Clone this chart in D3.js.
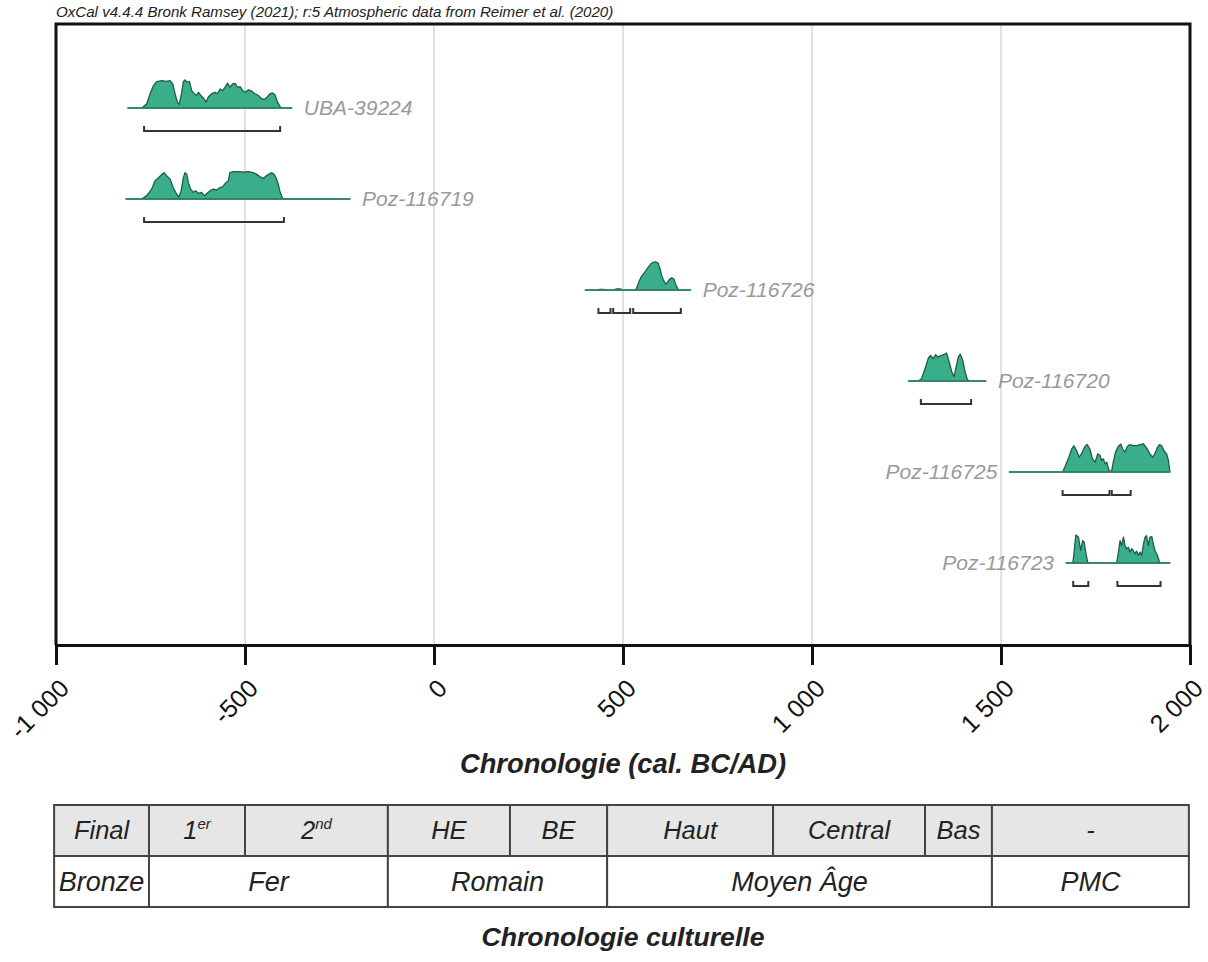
<!DOCTYPE html>
<html>
<head>
<meta charset="utf-8">
<script src="https://cdn.jsdelivr.net/npm/d3@7/dist/d3.min.js"></script>
<style>
  html, body { margin: 0; padding: 0; background: #fff; }
  svg { display: block; font-family: "Liberation Sans", Arial, sans-serif; }
</style>
</head>
<body>
<svg id="chart" width="1208" height="962"></svg>
<script>
// ---------------- DATA ----------------
const noteText = "OxCal v4.4.4 Bronk Ramsey (2021); r:5 Atmospheric data from Reimer et al. (2020)";
const axisTitle = "Chronologie (cal. BC/AD)";
const tableTitle = "Chronologie culturelle";

const tickValues = [-1000, -500, 0, 500, 1000, 1500, 2000];
const tickLabels = ["-1 000", "-500", "0", "500", "1 000", "1 500", "2 000"];
const gridValues = [-500, 0, 500, 1000, 1500];

const sampleNames = ["UBA-39224", "Poz-116719", "Poz-116726", "Poz-116720", "Poz-116725", "Poz-116723"];
const labelSides = ["right", "right", "right", "right", "left", "left"];

const uba39224Years = [-810,-773,-760,-751,-742,-734,-720,-707,-698,-691,-685,-679,-674,-668,-663,-659,-653,-647,-641,-635,-628,-623,-617,-610,-603,-597,-588,-579,-573,-566,-559,-553,-546,-540,-533,-526,-520,-513,-506,-499,-491,-482,-474,-465,-456,-449,-443,-434,-427,-421,-414,-407,-403,-376];
const uba39224Prob  = [0,0,15,51,80,94,98,95,98,86,51,21,13,51,95,100,92,95,62,51,45,56,45,36,21,39,51,56,51,68,62,74,89,74,86,88,74,76,62,56,65,60,51,45,33,31,36,51,54,47,21,4,0,0];

const poz116719Years = [-815,-773,-760,-747,-738,-729,-720,-714,-707,-698,-690,-681,-675,-669,-663,-659,-654,-650,-644,-637,-630,-623,-615,-608,-601,-593,-584,-575,-566,-559,-550,-544,-540,-531,-518,-504,-491,-478,-469,-460,-451,-444,-438,-429,-423,-418,-412,-407,-401,-399,-222];
const poz116719Prob  = [0,0,12,35,65,76,88,94,82,71,41,18,6,29,76,94,88,59,35,24,29,20,24,12,20,29,35,32,41,44,59,65,94,98,98,96,98,94,88,79,74,82,88,94,88,76,53,24,4,0,0];

const poz116726Years = [400,430,439,448,457,474,483,492,501,532,536,542,549,558,567,574,580,587,593,598,602,607,613,617,623,629,635,640,646,651,679];
const poz116726Prob  = [0,0,2,2,0,0,4,4,0,0,6,29,49,65,82,94,99,100,96,76,53,35,21,26,38,44,38,18,2,0,0];

const poz116720Years = [1255,1281,1290,1299,1308,1314,1321,1327,1334,1340,1349,1356,1363,1370,1376,1381,1387,1392,1399,1405,1411,1416,1460];
const poz116720Prob  = [0,0,8,44,82,91,79,94,85,91,94,100,67,32,16,49,85,96,73,32,5,0,0];

const poz116725Years = [1522,1663,1669,1678,1687,1693,1700,1707,1713,1722,1728,1735,1742,1749,1756,1762,1766,1771,1775,1780,1784,1788,1793,1797,1803,1810,1817,1822,1828,1834,1841,1850,1859,1868,1877,1885,1894,1901,1907,1914,1919,1925,1931,1938,1943,1945,1947];
const poz116725Prob  = [0,0,18,47,82,94,76,53,65,91,98,82,47,35,65,59,41,47,29,35,12,0,6,35,71,91,100,82,71,91,98,94,94,98,100,86,65,53,65,88,98,94,76,65,41,18,0];

const poz116723Years = [1672,1690,1693,1698,1705,1711,1716,1720,1725,1729,1732,1806,1810,1815,1819,1824,1828,1832,1837,1841,1846,1850,1854,1859,1863,1868,1872,1877,1881,1885,1890,1894,1899,1903,1907,1914,1918,1921,1947];
const poz116723Prob  = [0,0,33,100,92,45,80,74,33,4,0,0,33,80,62,92,62,51,56,39,51,45,33,42,27,39,27,68,92,98,62,92,94,68,45,27,9,0,0];

// 95.4% ranges (brackets) per sample
const uba39224Ranges  = [[-767, -407]];
const poz116719Ranges = [[-767, -397]];
const poz116726Ranges = [[435, 467], [474, 519], [527, 653]];
const poz116720Ranges = [[1288, 1421]];
const poz116725Ranges = [[1663, 1787], [1793, 1843]];
const poz116723Ranges = [[1691, 1731], [1808, 1922]];

// Cultural chronology table
const periodBounds = [-1005, -754, -500, -122, 201, 458, 897, 1299, 1476, 1997];
const subPeriods = [
  ["Final", ""], ["1", "er"], ["2", "nd"], ["HE", ""], ["BE", ""],
  ["Haut", ""], ["Central", ""], ["Bas", ""], ["-", ""]
];
const mainPeriods = ["Bronze", "Fer", "Romain", "Moyen Âge", "PMC"];
const mainPeriodSpans = [[0, 1], [1, 3], [3, 5], [5, 8], [8, 9]];

// ---------------- BUILD ----------------
const samples = [
  { years: uba39224Years, prob: uba39224Prob, ranges: uba39224Ranges },
  { years: poz116719Years, prob: poz116719Prob, ranges: poz116719Ranges },
  { years: poz116726Years, prob: poz116726Prob, ranges: poz116726Ranges },
  { years: poz116720Years, prob: poz116720Prob, ranges: poz116720Ranges },
  { years: poz116725Years, prob: poz116725Prob, ranges: poz116725Ranges },
  { years: poz116723Years, prob: poz116723Prob, ranges: poz116723Ranges }
].map((s, i) => ({ ...s, name: sampleNames[i], side: labelSides[i] }));

const svg = d3.select("#chart");

const plot = { left: 56, right: 1190, top: 24, bottom: 645 };

const x = d3.scaleLinear().domain([-1000, 2000]).range([plot.left, plot.right]);
const rowY = d3.scalePoint().domain(sampleNames).range([108, 563]);
const h = d3.scaleLinear().domain([0, 100]).range([0, 28]);

// note at top
svg.append("text")
  .attr("x", plot.left).attr("y", 17)
  .attr("font-size", 15.1).attr("font-style", "italic").attr("fill", "#222")
  .text(noteText);

// gridlines
svg.append("g").selectAll("line").data(gridValues).join("line")
  .attr("x1", d => x(d)).attr("x2", d => x(d))
  .attr("y1", plot.top).attr("y2", plot.bottom)
  .attr("stroke", "#c4c4c4").attr("stroke-width", 1);

// distributions
const rows = svg.append("g").selectAll("g").data(samples).join("g")
  .attr("transform", d => `translate(0,${rowY(d.name)})`);

const area = d3.area()
  .x(d => x(d[0]))
  .y0(0)
  .y1(d => -h(d[1]));

rows.append("path")
  .attr("d", d => area(d.years.map((yr, k) => [yr, d.prob[k]])))
  .attr("fill", "#3aad8a")
  .attr("stroke", "#1c5f45")
  .attr("stroke-width", 1.3)
  .attr("stroke-linejoin", "round");

rows.append("line")
  .attr("x1", d => x(d.years[0])).attr("x2", d => x(d.years[d.years.length - 1]))
  .attr("y1", 0).attr("y2", 0)
  .attr("stroke", "#2e8a66").attr("stroke-width", 1.6);

rows.append("text")
  .attr("x", d => d.side === "right" ? x(d.years[d.years.length - 1]) + 12 : x(d.years[0]) - 12)
  .attr("y", 7)
  .attr("text-anchor", d => d.side === "right" ? "start" : "end")
  .attr("font-size", 21).attr("font-style", "italic").attr("fill", "#999")
  .text(d => d.name);

// brackets
rows.each(function (d) {
  const g = d3.select(this);
  g.selectAll("path.br").data(d.ranges).join("path")
    .attr("class", "br")
    .attr("d", r => `M${x(r[0])},18 V23 H${x(r[1])} V18`)
    .attr("fill", "none").attr("stroke", "#333").attr("stroke-width", 2);
});

// frame (left, top, right)
svg.append("path")
  .attr("d", `M${plot.left},${plot.bottom} V${plot.top} H${plot.right} V${plot.bottom}`)
  .attr("fill", "none").attr("stroke", "#111").attr("stroke-width", 3);

// x axis
const xAxis = d3.axisBottom(x)
  .tickValues(tickValues)
  .tickFormat((d, i) => tickLabels[i])
  .tickSize(20)
  .tickSizeOuter(0);

const ax = svg.append("g")
  .attr("transform", `translate(0,${plot.bottom})`)
  .call(xAxis);
ax.select(".domain").attr("stroke", "#111").attr("stroke-width", 3);
ax.selectAll(".tick line").attr("stroke", "#111").attr("stroke-width", 3);
ax.selectAll(".tick text")
  .attr("font-family", "'Liberation Sans', Arial, sans-serif")
  .attr("font-size", 25)
  .attr("fill", "#111")
  .attr("text-anchor", "end")
  .attr("x", 0).attr("y", 0).attr("dy", 0)
  .attr("transform", "translate(14,45) rotate(-45)");

// axis title
svg.append("text")
  .attr("x", (plot.left + plot.right) / 2).attr("y", 773)
  .attr("text-anchor", "middle")
  .attr("font-size", 27.3).attr("font-weight", "bold").attr("font-style", "italic").attr("fill", "#222")
  .text(axisTitle);

// table
const tTop = 805, tMid = 856, tBot = 907;
const tbl = svg.append("g");

// row 1 cells
const row1 = tbl.selectAll("g.r1").data(subPeriods).join("g").attr("class", "r1");
row1.append("rect")
  .attr("x", (d, i) => x(periodBounds[i])).attr("y", tTop)
  .attr("width", (d, i) => x(periodBounds[i + 1]) - x(periodBounds[i]))
  .attr("height", tMid - tTop)
  .attr("fill", "#e6e6e6").attr("stroke", "#444").attr("stroke-width", 2);
const r1t = row1.append("text")
  .attr("x", (d, i) => (x(periodBounds[i]) + x(periodBounds[i + 1])) / 2)
  .attr("y", 839)
  .attr("text-anchor", "middle")
  .attr("font-size", 25.5).attr("font-style", "italic").attr("fill", "#222");
r1t.append("tspan").text(d => d[0]);
r1t.filter(d => d[1]).append("tspan")
  .attr("font-size", 15).attr("dy", -10).text(d => d[1]);

// row 2 cells
const row2 = tbl.selectAll("g.r2").data(mainPeriods).join("g").attr("class", "r2");
row2.append("rect")
  .attr("x", (d, i) => x(periodBounds[mainPeriodSpans[i][0]])).attr("y", tMid)
  .attr("width", (d, i) => x(periodBounds[mainPeriodSpans[i][1]]) - x(periodBounds[mainPeriodSpans[i][0]]))
  .attr("height", tBot - tMid)
  .attr("fill", "#fff").attr("stroke", "#444").attr("stroke-width", 2);
row2.append("text")
  .attr("x", (d, i) => (x(periodBounds[mainPeriodSpans[i][0]]) + x(periodBounds[mainPeriodSpans[i][1]])) / 2)
  .attr("y", 891)
  .attr("text-anchor", "middle")
  .attr("font-size", 27).attr("font-style", "italic").attr("fill", "#222")
  .text(d => d);

// table title
svg.append("text")
  .attr("x", (plot.left + plot.right) / 2).attr("y", 946)
  .attr("text-anchor", "middle")
  .attr("font-size", 26.7).attr("font-weight", "bold").attr("font-style", "italic").attr("fill", "#222")
  .text(tableTitle);
</script>
</body>
</html>
